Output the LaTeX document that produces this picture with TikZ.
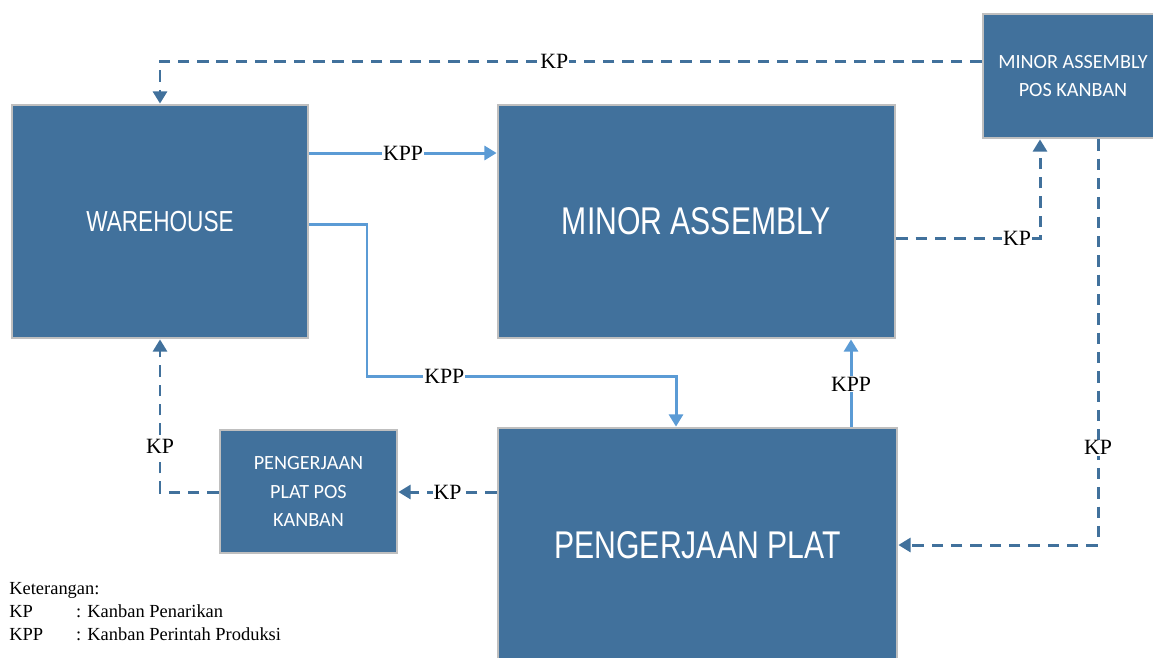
\documentclass[tikz,border=0pt]{standalone}
\usepackage{fontspec}
\setmainfont{Liberation Serif}
\newfontfamily\boxfont{Carlito}
\newfontfamily\bigboxfont{Liberation Sans}[FakeStretch=0.78]
\usetikzlibrary{arrows.meta,positioning}
\definecolor{boxblue}{RGB}{65,113,156}
\definecolor{boxgray}{RGB}{191,191,191}
\definecolor{lineblue}{RGB}{91,155,213}
\tikzset{
    bigbox/.style={
        draw=boxgray,
        line width=1.6pt,
        fill=boxblue,
        text=white,
        inner sep=0pt,
        font=\bigboxfont\fontsize{22}{26}\selectfont
    },
    posbox/.style={
        bigbox,
        align=center,
        font=\boxfont\fontsize{11.5}{16}\selectfont
    },
    % garis KPP
    solidarrow/.style={
        line width=1.7pt,
        lineblue,
        -{Triangle[length=7pt, width=8pt]}
    },
    % garis KP
    dasharrow/.style={
        line width=1.7pt,
        boxblue,
        dash pattern=on 6.5pt off 4.5pt,
        -{Triangle[length=7pt, width=8pt]}
    },
    lbl/.style={
        fill=white,
        inner sep=0.5pt,
        text=black,
        font=\fontsize{12.4}{14}\selectfont
    }
}

\begin{document}
\begin{tikzpicture}[x=0.02cm,y=-0.02cm]
\useasboundingbox (0,0) rectangle (1153,657);

% kotak
\node[bigbox, minimum width=5.92cm, minimum height=4.66cm,
      font=\bigboxfont\fontsize{16.5}{20}\selectfont] (wh) at (160,221.5) {WAREHOUSE};
\node[bigbox, minimum width=7.94cm, minimum height=4.66cm] (ma) at (696.5,221.5) {MINOR ASSEMBLY};
\node[bigbox, minimum width=7.98cm, minimum height=4.68cm] (pp) at (697.5,545) {PENGERJAAN PLAT};
\node[posbox, minimum width=3.6cm, minimum height=2.48cm] (mpk) at (1073,76) {MINOR ASSEMBLY\\POS KANBAN};
\node[posbox, minimum width=3.54cm, minimum height=2.46cm] (ppk) at (308.5,491.5) {PENGERJAAN\\PLAT POS\\KANBAN};

% titik bantu
\coordinate (r1) at (0,153);
\coordinate (r2) at (0,224);
\coordinate (c1) at (367,376);
\coordinate (c2) at (676,376);
\coordinate (c3) at (851,0);
\coordinate (c4) at (1040,238);
\coordinate (c5) at (160,61);
\coordinate (c6) at (1098,545);
\coordinate (c7) at (0,492);

% KPP
\draw[solidarrow] (wh.east |- r1) -- node[lbl] (kpp1) {KPP} (ma.west |- r1);
\draw[solidarrow] (wh.east |- r2) -| (c1) -- node[lbl, pos=0.25] (kpp2) {KPP} (c2) -- (pp.north -| c2);
\draw[solidarrow] (pp.north -| c3) -- node[lbl, pos=0.49] (kpp3) {KPP} (ma.south -| c3);

% KP
\draw[dasharrow] (ma.east |- c4) -| node[lbl, pos=0.42] (kp1) {KP} (mpk.south -| c4);
\draw[dasharrow] (mpk.west |- c5) -| node[lbl, pos=0.26] (kp2) {KP} (wh.north -| c5);
\draw[dasharrow] (mpk.south -| c6) |- node[lbl, pos=0.38] (kp3) {KP} (pp.east |- c6);
\draw[dasharrow] (pp.west |- c7) -- node[lbl] (kp4) {KP} (ppk.east |- c7);
\draw[dasharrow] (ppk.west |- c7) -| node[lbl, pos=0.65] (kp5) {KP} (wh.south -| c5);

% keterangan
\node[anchor=north west, inner sep=0pt, font=\fontsize{10.5}{13}\selectfont] (ket) at (9,578) {%
\begin{tabular}{@{}p{38pt}@{}l@{}}
\multicolumn{2}{@{}l@{}}{Keterangan:}\\
KP & : Kanban Penarikan\\
KPP & : Kanban Perintah Produksi
\end{tabular}};
\end{tikzpicture}
\end{document}
